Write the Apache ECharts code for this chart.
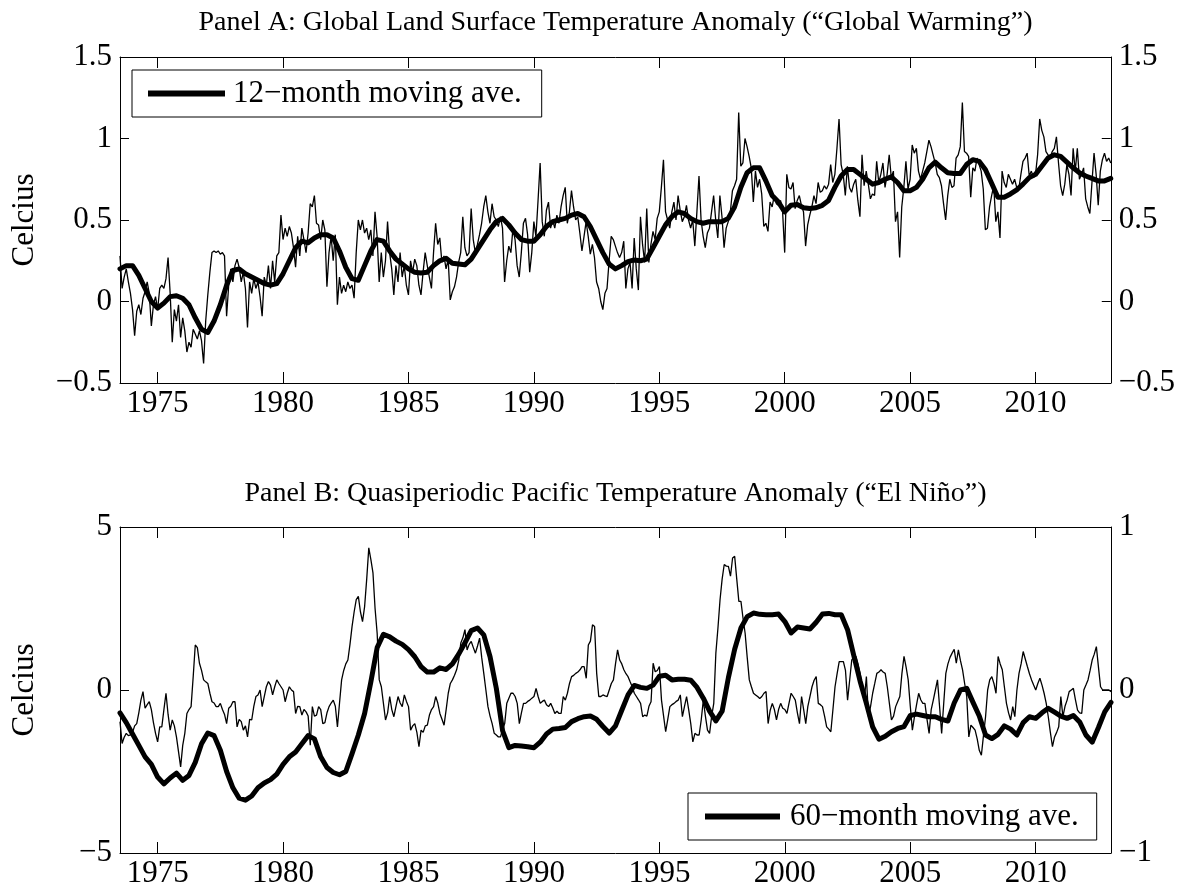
<!DOCTYPE html>
<html><head><meta charset="utf-8">
<script src="https://cdn.jsdelivr.net/npm/echarts@6/dist/echarts.min.js"></script>
<style>html,body{margin:0;padding:0;background:#fff}#c{width:1178px;height:893px}</style>
</head><body><div id="c"></div>
<script>
// ---------- data ----------
const startYear = 1973.5;          // first month shown
const monthStep = 1 / 12;          // monthly series
const quarterStep = 0.25;          // moving averages sampled quarterly
const xTicks = [1975, 1980, 1985, 1990, 1995, 2000, 2005, 2010];
const yTicksA = [-0.5, 0, 0.5, 1, 1.5];
const yTicksBLeft = [-5, 0, 5];
const yTicksBRight = [-1, 0, 1];
const titleA = 'Panel A: Global Land Surface Temperature Anomaly (\u201cGlobal Warming\u201d)';
const titleB = 'Panel B: Quasiperiodic Pacific Temperature Anomaly (\u201cEl Ni\u00f1o\u201d)';
const nameA = '12\u2212month moving ave.';
const nameB = '60\u2212month moving ave.';

// Panel A: monthly land temperature anomaly (Celsius)
const landMonthly = [
 0.28,0.08,0.15,0.20,0.12,0.05,-0.05,-0.21,-0.06,-0.02,-0.08,0.02,
 0.06,0.12,0.05,-0.15,-0.02,0.03,-0.05,0.08,0.10,0.08,0.14,0.27,
 0.05,-0.25,-0.05,-0.12,-0.02,-0.22,-0.10,-0.18,-0.31,-0.25,-0.28,-0.17,
 -0.20,-0.23,-0.18,-0.24,-0.38,-0.12,0.04,0.18,0.30,0.31,0.30,0.31,
 0.29,0.30,0.28,-0.09,0.10,0.20,0.12,0.22,0.26,0.21,0.12,0.18,
 0.08,-0.16,0.12,0.05,0.14,0.08,0.12,0.03,-0.09,0.15,0.10,0.22,
 0.08,0.25,0.12,0.28,0.30,0.53,0.38,0.45,0.40,0.46,0.42,0.33,
 0.21,0.40,0.28,0.45,0.38,0.30,0.42,0.60,0.58,0.65,0.48,0.47,
 0.38,0.50,0.44,0.09,0.30,0.40,0.25,0.41,-0.02,0.15,0.05,0.10,
 0.06,0.12,0.08,0.10,0.02,0.30,0.50,0.44,0.50,0.42,0.45,0.38,
 0.44,0.28,0.55,0.40,0.12,0.30,0.15,0.25,0.49,0.30,0.20,0.04,
 0.22,0.12,0.30,0.15,0.22,0.10,0.04,0.25,0.18,0.26,0.22,0.10,
 0.04,0.18,0.30,0.22,0.15,0.08,0.30,0.48,0.35,0.39,0.24,0.28,
 0.20,0.26,0.01,0.06,0.09,0.15,0.24,0.30,0.52,0.33,0.28,0.30,
 0.57,0.38,0.30,0.35,0.41,0.48,0.58,0.65,0.55,0.48,0.60,0.52,
 0.50,0.46,0.52,0.45,0.12,0.25,0.34,0.30,0.45,0.38,0.22,0.15,
 0.30,0.48,0.51,0.41,0.18,0.30,0.49,0.40,0.62,0.85,0.49,0.40,
 0.56,0.61,0.45,0.50,0.45,0.53,0.48,0.58,0.65,0.70,0.48,0.55,
 0.68,0.58,0.50,0.52,0.42,0.31,0.40,0.49,0.40,0.29,0.35,0.27,
 0.12,0.08,0.00,-0.05,0.05,0.08,0.25,0.40,0.38,0.34,0.30,0.27,
 0.30,0.37,0.08,0.20,0.24,0.08,0.39,0.20,0.07,0.52,0.35,0.24,
 0.57,0.24,0.35,0.43,0.38,0.51,0.55,0.70,0.87,0.55,0.50,0.45,
 0.55,0.61,0.50,0.65,0.56,0.49,0.52,0.59,0.50,0.45,0.50,0.34,
 0.55,0.77,0.50,0.40,0.33,0.42,0.45,0.55,0.65,0.50,0.39,0.65,
 0.52,0.33,0.45,0.49,0.55,0.68,0.71,0.75,1.16,0.83,0.85,1.00,
 0.95,0.89,0.82,0.61,0.80,0.70,0.75,0.66,0.46,0.48,0.43,0.61,
 0.58,0.65,0.60,0.59,0.62,0.55,0.30,0.78,0.70,0.69,0.73,0.57,
 0.62,0.65,0.59,0.55,0.34,0.47,0.53,0.58,0.65,0.60,0.73,0.67,
 0.68,0.71,0.69,0.72,0.84,0.73,0.78,0.94,1.12,0.84,0.78,0.65,
 0.83,0.70,0.67,0.72,0.75,0.62,0.52,0.90,0.71,0.80,0.72,0.63,
 0.66,0.65,0.86,0.73,0.78,0.85,0.70,0.78,0.90,0.76,0.80,0.49,
 0.55,0.27,0.58,0.70,0.86,0.69,0.75,0.96,0.91,0.94,0.80,0.75,
 0.80,0.85,0.92,0.99,0.95,0.90,0.85,0.78,0.76,0.71,0.60,0.50,
 0.65,0.75,0.70,0.71,0.88,0.90,0.95,1.22,0.92,0.91,0.89,0.64,
 0.82,0.80,0.88,0.84,0.80,0.69,0.44,0.45,0.58,0.65,0.71,0.49,
 0.55,0.39,0.80,0.73,0.70,0.78,0.75,0.72,0.75,0.70,0.69,0.78,
 0.86,0.88,0.91,0.77,0.80,0.76,0.78,0.90,1.12,1.05,1.01,0.92,
 0.90,0.88,0.92,0.94,1.01,0.85,0.71,0.65,0.72,0.84,0.78,0.65,
 0.94,0.80,0.94,0.75,0.78,0.82,0.63,0.58,0.54,0.73,0.91,0.78,
 0.59,0.80,0.87,0.91,0.86,0.88,0.85
];

// Panel A: 12-month moving average, quarterly samples
const land12 = [
 0.20,0.22,
 0.22,0.16,0.08,0.00,   -0.04,-0.01,0.03,0.035,  0.02,-0.02,-0.10,-0.17,  -0.19,-0.12,-0.02,0.10,
 0.19,0.20,0.17,0.15,   0.13,0.11,0.10,0.11,     0.17,0.25,0.33,0.37,     0.36,0.39,0.41,0.41,
 0.39,0.31,0.21,0.14,   0.13,0.22,0.31,0.38,     0.37,0.31,0.26,0.23,     0.20,0.18,0.175,0.18,
 0.22,0.25,0.265,0.235, 0.23,0.225,0.26,0.32,    0.38,0.44,0.49,0.51,     0.47,0.42,0.38,0.37,
 0.37,0.41,0.46,0.49,   0.50,0.51,0.53,0.54,     0.52,0.46,0.38,0.30,     0.23,0.20,0.22,0.245,
 0.255,0.25,0.26,0.33,  0.40,0.47,0.52,0.55,     0.54,0.51,0.49,0.48,     0.49,0.49,0.49,0.51,
 0.58,0.70,0.79,0.82,   0.82,0.74,0.65,0.61,     0.55,0.59,0.595,0.575,   0.57,0.575,0.59,0.62,
 0.70,0.77,0.81,0.81,   0.78,0.75,0.72,0.73,     0.75,0.765,0.73,0.68,    0.68,0.70,0.75,0.82,
 0.855,0.82,0.79,0.785, 0.785,0.84,0.87,0.86,    0.81,0.725,0.64,0.64,    0.66,0.685,0.72,0.76,
 0.78,0.83,0.88,0.90,   0.89,0.855,0.82,0.79,    0.77,0.755,0.74,0.74,
 0.755
];

// Panel B: monthly Pacific temperature anomaly (left axis, Celsius)
const pacificMonthly = [
 -0.97,-1.64,-1.45,-1.33,-1.40,-1.38,-1.30,-1.10,-1.03,-0.70,-0.31,-0.05,
 -0.56,-0.45,-0.36,-0.60,-1.00,-1.33,-1.59,-1.13,-1.13,-0.60,-0.10,-0.75,
 -1.23,-0.92,-1.10,-1.44,-1.90,-2.36,-1.70,-1.33,-0.72,-0.60,-0.51,0.40,
 1.38,1.30,0.82,0.60,0.31,0.25,0.20,-0.10,-0.36,-0.40,-0.51,-0.51,
 -0.41,-0.60,-0.75,-1.03,-0.56,-0.50,-0.36,-0.36,-1.13,-0.90,-0.97,-1.23,
 -1.10,-1.44,-0.90,-0.92,-0.50,-0.20,-0.15,0.00,-0.51,-0.20,0.10,0.26,
 0.15,-0.15,0.10,0.31,0.20,0.10,0.00,-0.36,-0.10,0.10,0.00,-0.05,
 -0.72,-0.50,-0.51,-0.77,-0.60,-0.67,-0.80,-1.69,-0.51,-0.80,-0.77,-0.51,
 -0.60,-1.03,-1.00,-0.70,-0.51,-0.40,-0.31,-0.50,-1.13,-0.40,0.31,0.60,
 0.80,0.92,1.40,1.95,2.40,2.77,2.87,2.40,2.10,2.56,3.40,4.36,
 4.00,3.59,2.50,1.74,0.31,0.10,-0.41,-0.92,-0.70,-0.20,-0.60,-0.82,
 -0.50,-0.20,-0.40,-0.51,-0.15,-0.35,-0.51,-1.23,-1.10,-1.03,-1.30,-1.74,
 -1.23,-1.30,-1.10,-1.08,-0.77,-0.60,-0.51,-0.20,-0.40,-0.72,-0.90,-1.08,
 -0.60,-0.10,0.20,0.31,0.45,0.62,0.90,1.44,1.60,1.85,1.23,1.40,
 1.49,1.30,1.13,1.35,1.59,1.00,0.51,0.00,-0.51,-0.80,-1.03,-1.33,
 -1.38,-1.44,-1.44,-1.20,-1.03,-0.41,-0.25,-0.10,-0.10,-0.20,-0.41,-1.03,
 -0.70,-0.41,-0.41,-0.35,-0.31,-0.25,-0.20,0.05,-0.20,-0.41,-0.35,-0.31,
 -0.45,-0.51,-0.41,-0.55,-0.72,-0.65,-0.72,-0.72,-0.20,-0.31,-0.10,0.20,
 0.41,0.45,0.51,0.55,0.62,0.72,0.72,0.36,1.38,1.50,2.00,1.95,
 0.51,-0.20,-0.20,-0.15,-0.18,-0.20,0.00,0.20,0.31,0.80,1.23,0.92,
 0.80,0.62,0.50,0.41,0.25,0.10,-0.10,-0.20,-0.30,-0.41,-0.82,-0.77,
 -0.80,-0.50,-0.36,0.82,0.56,0.60,0.72,-0.31,-0.80,-1.28,-0.90,-0.51,
 -0.45,-0.41,-0.35,-0.31,-0.15,-0.82,-0.50,-0.20,-0.60,-1.03,-1.59,-1.33,
 -1.38,-1.38,-0.92,-0.31,-0.80,-1.23,-1.33,-0.80,-0.41,1.13,1.90,2.77,
 3.40,3.85,3.80,3.79,3.49,4.05,4.10,3.40,2.72,2.72,2.20,1.74,
 1.00,0.31,0.10,-0.10,-0.15,-0.20,-0.26,-0.20,-0.10,-0.05,-1.03,-0.62,
 -0.41,-0.60,-0.92,-0.60,-0.41,-0.56,-0.60,-0.72,-0.40,-0.10,-0.20,-0.31,
 -0.70,-1.03,-0.20,-0.60,-1.03,-0.50,-0.20,0.10,0.30,0.41,-0.41,-0.45,
 -0.51,-0.80,-1.13,-1.20,-1.28,-0.60,0.10,0.50,0.87,0.87,0.87,0.60,
 -0.31,0.30,0.92,1.00,1.03,0.80,0.51,0.10,-0.31,0.41,-0.82,-0.50,
 -0.10,0.20,0.51,0.55,0.62,0.55,0.51,0.10,-0.41,-0.92,-0.80,-0.51,
 -0.35,-0.20,0.51,1.03,0.70,0.31,-0.50,-1.23,-0.82,-0.45,-0.10,-0.30,
 -0.41,-0.41,-0.90,-1.33,-0.60,-0.31,0.00,0.31,-0.50,-1.33,-0.40,0.51,
 0.80,1.00,1.13,1.25,0.82,1.23,0.90,0.62,0.20,-0.20,-1.44,-1.08,
 -1.15,-1.23,-1.50,-1.85,-2.00,-1.40,-0.82,0.00,0.31,0.41,0.20,-0.10,
 1.03,0.80,0.62,0.10,-0.41,-0.70,-0.92,-0.51,-0.82,0.00,0.51,0.80,
 1.18,0.95,0.72,0.50,0.31,0.15,0.00,0.20,0.36,0.15,-0.10,-0.40,
 -0.82,-1.30,-1.74,-1.44,-1.30,-1.13,-0.20,-0.82,-0.50,-0.31,-0.05,0.00,
 0.05,-0.30,-0.62,-0.70,-0.72,0.00,0.15,0.31,0.60,0.92,1.10,1.33,
 0.70,0.10,0.00,0.00,0.00,0.00,-0.05
];

// Panel B: 60-month moving average, quarterly samples (right axis, Celsius)
const pacific60 = [
 -0.14,-0.20,
 -0.27,-0.34,-0.41,-0.456,    -0.534,-0.576,-0.54,-0.51,   -0.554,-0.524,-0.444,-0.33,  -0.264,-0.28,-0.37,-0.50,
 -0.60,-0.664,-0.676,-0.65,   -0.60,-0.57,-0.55,-0.516,    -0.456,-0.41,-0.38,-0.33,    -0.28,-0.30,-0.41,-0.476,
 -0.506,-0.52,-0.50,-0.39,    -0.276,-0.144,0.05,0.26,     0.342,0.326,0.30,0.28,       0.248,0.204,0.144,0.11,
 0.11,0.136,0.126,0.16,       0.22,0.29,0.364,0.38,        0.338,0.204,0.01,-0.25,      -0.354,-0.34,-0.344,-0.348,
 -0.354,-0.32,-0.27,-0.24,    -0.236,-0.23,-0.194,-0.176,  -0.164,-0.16,-0.18,-0.224,   -0.264,-0.22,-0.124,-0.03,
 0.028,0.016,0.01,0.03,       0.084,0.09,0.062,0.066,      0.066,0.06,0.016,-0.05,      -0.13,-0.19,-0.13,0.076,
 0.25,0.38,0.45,0.472,        0.464,0.462,0.462,0.466,     0.42,0.35,0.386,0.38,        0.374,0.416,0.466,0.47,
 0.462,0.462,0.37,0.21,       0.054,-0.082,-0.226,-0.302,  -0.284,-0.256,-0.236,-0.224, -0.156,-0.148,-0.156,-0.164,
 -0.164,-0.18,-0.19,-0.08,    0.00,0.01,-0.076,-0.16,      -0.276,-0.298,-0.272,-0.22,  -0.24,-0.276,-0.20,-0.164,
 -0.174,-0.14,-0.112,-0.136,  -0.16,-0.174,-0.156,-0.196,  -0.276,-0.32,-0.23,-0.134,
 -0.076
];

// ---------- chart ----------
const FONT = "'Liberation Serif', 'Times New Roman', Times, serif";
const BLACK = '#000';
const toPairs = (arr, step) => arr.map((v, i) => [startYear + i * step, v]);
const minus = v => String(v).replace('-', '\u2212');
const plain = v => String(v);

function xAx(grid, pos, showLabel) {
  return {
    type: 'value', gridIndex: grid, position: pos, min: 1973.5, max: 2013,
    axisLine: { show: true, onZero: false, lineStyle: { color: BLACK, width: 1 } },
    axisTick: { show: true, inside: true, length: 11, customValues: xTicks, lineStyle: { color: BLACK, width: 1 } },
    axisLabel: { show: showLabel, customValues: xTicks, formatter: plain, fontSize: 31, fontFamily: FONT, color: BLACK, margin: 5 },
    splitLine: { show: false }
  };
}
function yAx(grid, pos, min, max, ticks, name) {
  return {
    type: 'value', gridIndex: grid, position: pos, min: min, max: max,
    axisLine: { show: true, onZero: false, lineStyle: { color: BLACK, width: 1 } },
    axisTick: { show: true, inside: true, length: 9, customValues: ticks, lineStyle: { color: BLACK, width: 1 } },
    axisLabel: { customValues: ticks, formatter: minus, fontSize: 31, fontFamily: FONT, color: BLACK, margin: 8 },
    splitLine: { show: false },
    name: name || '', nameLocation: 'middle', nameGap: 80, nameRotate: 90,
    nameTextStyle: { fontSize: 31, fontFamily: FONT, color: BLACK }
  };
}
function legendBox(name, left, top, iconW, pad, textPadLeft) {
  return {
    data: [name], left: left, top: top, orient: 'horizontal', icon: 'rect',
    itemWidth: iconW, itemHeight: 6, padding: pad, selectedMode: false,
    borderColor: BLACK, borderWidth: 1, borderRadius: 0, backgroundColor: '#fff',
    textStyle: { fontSize: 31, fontFamily: FONT, color: BLACK, lineHeight: 31, padding: [0, 0, 0, textPadLeft] }
  };
}
const titleStyle = { fontSize: 28, fontWeight: 'normal', fontFamily: FONT, color: BLACK, lineHeight: 28 };

const chart = echarts.init(document.getElementById('c'), null, { renderer: 'canvas' });
chart.setOption({
  animation: false,
  backgroundColor: '#fff',
  title: [
    { text: titleA, left: 615.5, top: 9, textAlign: 'center', padding: 0, textStyle: titleStyle },
    { text: titleB, left: 615.5, top: 480, textAlign: 'center', padding: 0, textStyle: titleStyle }
  ],
  grid: [
    { left: 120, top: 57, width: 991, height: 326 },
    { left: 120, top: 527, width: 991, height: 326 }
  ],
  xAxis: [xAx(0, 'bottom', true), xAx(0, 'top', false), xAx(1, 'bottom', true), xAx(1, 'top', false)],
  yAxis: [
    yAx(0, 'left', -0.5, 1.5, yTicksA, 'Celcius'),
    yAx(0, 'right', -0.5, 1.5, yTicksA),
    yAx(1, 'left', -5, 5, yTicksBLeft, 'Celcius'),
    yAx(1, 'right', -1, 1, yTicksBRight)
  ],
  legend: [
    legendBox(nameA, 132, 70, 77, [8, 20, 8, 16], 3),
    legendBox(nameB, 688, 793, 75, [8, 18, 8, 17], 5)
  ],
  series: [
    { type: 'line', name: 'land monthly', xAxisIndex: 0, yAxisIndex: 0, data: toPairs(landMonthly, monthStep),
      symbol: 'none', silent: true, z: 2, lineStyle: { color: BLACK, width: 1.3 }, itemStyle: { color: BLACK } },
    { type: 'line', name: nameA, xAxisIndex: 0, yAxisIndex: 0, data: toPairs(land12, quarterStep),
      symbol: 'none', silent: true, z: 3, lineStyle: { color: BLACK, width: 5, join: 'round', cap: 'round' }, itemStyle: { color: BLACK } },
    { type: 'line', name: 'pacific monthly', xAxisIndex: 2, yAxisIndex: 2, data: toPairs(pacificMonthly, monthStep),
      symbol: 'none', silent: true, z: 2, lineStyle: { color: BLACK, width: 1.3 }, itemStyle: { color: BLACK } },
    { type: 'line', name: nameB, xAxisIndex: 2, yAxisIndex: 3, data: toPairs(pacific60, quarterStep),
      symbol: 'none', silent: true, z: 3, lineStyle: { color: BLACK, width: 5, join: 'round', cap: 'round' }, itemStyle: { color: BLACK } }
  ]
});
</script>
</body></html>
